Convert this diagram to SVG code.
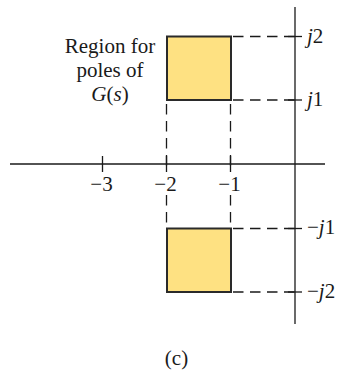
<svg xmlns="http://www.w3.org/2000/svg" width="341" height="373" viewBox="0 0 341 373">
<style>
.ax{stroke:#1a1a1a;stroke-width:1.3;fill:none}
.dash{stroke:#1a1a1a;stroke-width:1.3;fill:none;stroke-dasharray:10.5 6.5}
.box{fill:#fee182;stroke:#2a2a2a;stroke-width:2}
text{font-family:"Liberation Serif","Times New Roman",serif;font-size:21px;fill:#1a1a1a}
.it{font-style:italic}
</style>
<g id="axes">
<line class="ax" x1="10" y1="164" x2="325" y2="164"/>
<line class="ax" x1="295" y1="7" x2="295" y2="324"/>
<line class="ax" x1="102.5" y1="156" x2="102.5" y2="172"/>
<line class="ax" x1="166.5" y1="156" x2="166.5" y2="172"/>
<line class="ax" x1="230.5" y1="156" x2="230.5" y2="172"/>
<line class="ax" x1="288" y1="36.5" x2="302" y2="36.5"/>
<line class="ax" x1="288" y1="100" x2="302" y2="100"/>
<line class="ax" x1="288" y1="228.5" x2="302" y2="228.5"/>
<line class="ax" x1="288" y1="292" x2="302" y2="292"/>
</g>
<g id="connectors">
<line class="dash" x1="233" y1="36.5" x2="295" y2="36.5"/>
<line class="dash" x1="233" y1="100" x2="295" y2="100"/>
<line class="dash" x1="233" y1="228.5" x2="295" y2="228.5"/>
<line class="dash" x1="233" y1="292" x2="295" y2="292"/>
<line class="dash" x1="166.5" y1="104" x2="166.5" y2="172"/>
<line class="dash" x1="230.5" y1="104" x2="230.5" y2="172"/>
<line class="dash" x1="166.5" y1="195" x2="166.5" y2="227"/>
<line class="dash" x1="230.5" y1="195" x2="230.5" y2="227"/>
</g>
<g id="upper-region">
<rect class="box" x="167" y="36.5" width="64" height="63.5"/>
</g>
<g id="lower-region">
<rect class="box" x="167" y="228.5" width="64" height="63.5"/>
</g>
<g id="label">
<text x="110" y="53" text-anchor="middle">Region for</text>
<text x="110" y="77" text-anchor="middle">poles of</text>
<text x="110" y="101" text-anchor="middle"><tspan class="it">G</tspan>(<tspan class="it">s</tspan>)</text>
</g>
<g id="ticklabels">
<text x="101.5" y="191" text-anchor="middle">−3</text>
<text x="165.5" y="191" text-anchor="middle">−2</text>
<text x="229.5" y="191" text-anchor="middle">−1</text>
<text x="307" y="43"><tspan class="it">j</tspan>2</text>
<text x="307" y="106"><tspan class="it">j</tspan>1</text>
<text x="307" y="234">−<tspan class="it">j</tspan>1</text>
<text x="307" y="298">−<tspan class="it">j</tspan>2</text>
<text x="176.5" y="365" text-anchor="middle">(c)</text>
</g>
</svg>
